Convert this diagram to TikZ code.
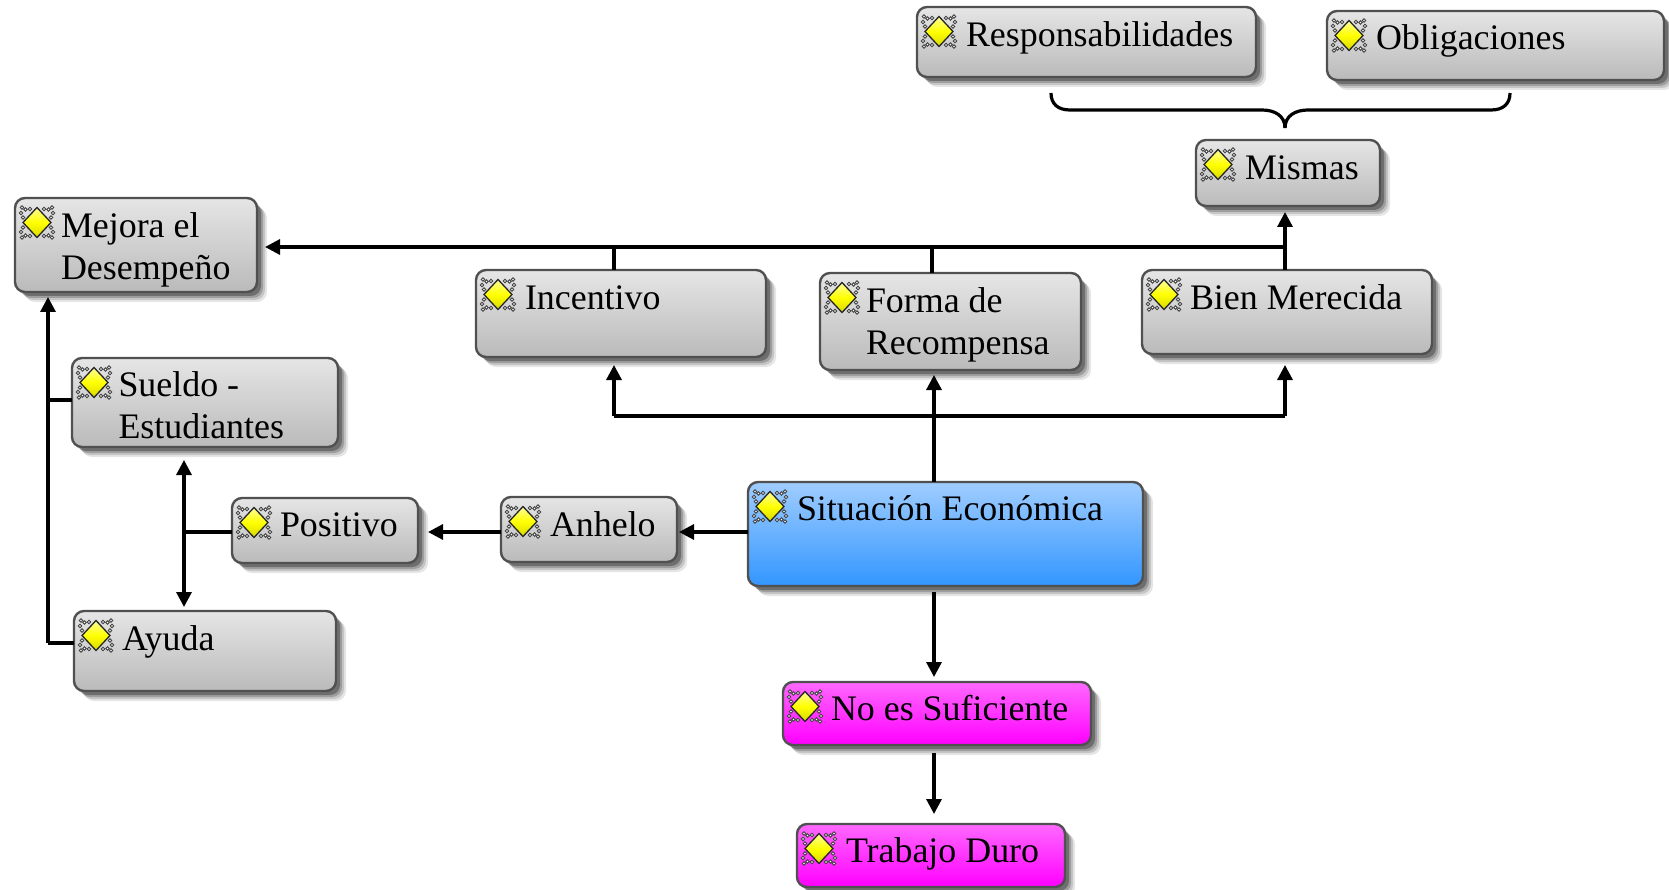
\documentclass[tikz,border=0pt]{standalone}
\usepackage{fontspec}
\setmainfont{Liberation Serif}
\usetikzlibrary{arrows.meta}
\definecolor{edgegray}{HTML}{505050}
\tikzset{
  x=1pt,y=-1pt,
  boxbase/.style={rectangle,rounded corners=10pt,draw=edgegray,line width=2.4pt,inner sep=0pt,outer sep=0pt},
  graybox/.style={boxbase,top color=black!10,bottom color=black!27},
  bluebox/.style={boxbase,top color={rgb,255:red,160;green,205;blue,255},bottom color={rgb,255:red,50;green,150;blue,255}},
  pinkbox/.style={boxbase,top color={rgb,255:red,255;green,105;blue,255},bottom color={rgb,255:red,255;green,0;blue,255}},
  boxtext/.style={anchor=north west,inner sep=0pt,outer sep=0pt,align=left,text=black,font=\fontsize{35.9}{42}\selectfont},
  conn/.style={draw=black,line width=3.2pt},
  arrow/.style={conn,-{Triangle[length=15pt,width=15pt]}},
  icon/.pic={
    \foreach \sx in {-1,1}{\foreach \sy in {-1,1}{
      \foreach \a/\b in {7/13.5,11.5/13,15/15,16/9.5,14/5}{
        \draw[black!75,fill=white,line width=.9pt] (\sx*\a,\sy*\b) circle[radius=1.7pt];
      }}}
    \draw[black!85,line width=1.3pt,top color=white!60!yellow,bottom color=yellow!85!black,middle color=yellow]
      (0,-15) -- (14,0) -- (0,15) -- (-14,0) -- cycle;
  }
}
% name, x1, y1, x2, y2, style, text, text dx, text dy
\newcommand{\bx}[9]{%
  \pgfmathsetmacro{\cxv}{(#2+#4)/2}%
  \pgfmathsetmacro{\cyv}{(#3+#5)/2}%
  \pgfmathsetmacro{\wv}{#4-#2}%
  \pgfmathsetmacro{\hv}{#5-#3}%
  \foreach \o/\op in {10/.10,8/.14,6/.2,4/.3}{
    \fill[black,opacity=\op,rounded corners=10pt] (#2+\o,#3+\o) rectangle (#4+\o,#5+\o);
  }
  \node[#6,minimum width=\wv pt,minimum height=\hv pt] (#1) at (\cxv,\cyv) {};
  \pic at (#2+22,#3+24.5) {icon};
  \node[boxtext] (#1-t) at (#2+#8,#3+#9) {\strut #7};
}
\begin{document}
\begin{tikzpicture}
\useasboundingbox (0,0) rectangle (1669,890);
\bx{resp}{917}{7}{1256}{77}{graybox}{Responsabilidades}{49}{9.8}
\bx{oblig}{1327}{11}{1664}{80}{graybox}{Obligaciones}{49}{8.8}
\bx{mismas}{1196}{140}{1380}{206}{graybox}{Mismas}{49}{9.8}
\bx{mejora}{15}{198}{257}{292}{graybox}{Mejora el\\Desempeño}{46}{10.4}
\bx{incent}{476}{270}{766}{357}{graybox}{Incentivo}{49}{10.4}
\bx{forma}{820}{273}{1081}{370}{graybox}{Forma de\\Recompensa}{46}{9.6}
\bx{bien}{1142}{270}{1432}{354}{graybox}{Bien Merecida}{48}{10.4}
\bx{sueldo}{72}{358}{338}{447}{graybox}{Sueldo -\\Estudiantes}{46.5}{8.8}
\bx{positivo}{232}{498}{418}{563}{graybox}{Positivo}{48}{8.8}
\bx{anhelo}{501}{497}{677}{562}{graybox}{Anhelo}{49}{9.8}
\bx{sit}{748}{482}{1143}{586}{bluebox}{Situación Económica}{49}{8.8}
\bx{ayuda}{74}{611}{336}{691}{graybox}{Ayuda}{48}{9.8}
\bx{noes}{783}{682}{1091}{745}{pinkbox}{No es Suficiente}{48}{8.8}
\bx{trabajo}{797}{824}{1065}{887}{pinkbox}{Trabajo Duro}{49}{8.8}
% routing coordinates
\coordinate (cm) at (934,416);
\coordinate (cl) at (614,416);
\coordinate (cr) at (1285,416);
\coordinate (tr) at (1285,247);
\coordinate (tl) at (614,247);
\coordinate (tm) at (932,247);
\coordinate (ll) at (48,400);
\coordinate (lb) at (48,643);
\coordinate (pv) at (184,532);
% upper group
\draw[arrow] (cm |- sit.north) -- ([yshift=-5pt]cm |- forma.south);
\draw[arrow] (cl) -- ([yshift=-8pt]cl |- incent.south);
\draw[arrow] (cr) -- ([yshift=-11pt]cr |- bien.south);
\draw[conn] (cl) -- (cr);
\draw[arrow] (cr |- bien.north) -- ([yshift=-6pt]cr |- mismas.south);
\draw[arrow] (tr) -- ([xshift=8pt]mejora.east |- tr);
\draw[conn] (tl) -- (tl |- incent.north);
\draw[conn] (tm) -- (tm |- forma.north);
% left group
\draw[arrow] (lb) -- ([yshift=-5pt]ll |- mejora.south);
\draw[conn] (lb) -- (lb -| ayuda.west);
\draw[conn] (ll) -- (ll -| sueldo.west);
\draw[conn] (pv) -- (pv -| positivo.west);
\draw[arrow] (pv) -- ([yshift=-13pt]pv |- sueldo.south);
\draw[arrow] (pv) -- ([yshift=4pt]pv |- ayuda.north);
\draw[arrow] (anhelo.west |- pv) -- ([xshift=10pt]positivo.east |- pv);
\draw[arrow] (sit.west |- pv) -- ([xshift=2pt]anhelo.east |- pv);
% lower group
\draw[arrow] ([yshift=-6pt]cm |- sit.south) -- ([yshift=5pt]cm |- noes.north);
\draw[arrow] ([yshift=-8pt]cm |- noes.south) -- ([yshift=10pt]cm |- trabajo.north);
% brace
\coordinate (bl) at (1051,93);
\coordinate (br) at (1510,93);
\coordinate (bc) at (1285,128);
\draw[conn] (bl) .. controls (1051,104) and (1058,110) .. (1070,110) -- (1262,110)
  .. controls (1275,110) and (1285,116) .. (bc);
\draw[conn] (br) .. controls (1510,104) and (1503,110) .. (1491,110) -- (1308,110)
  .. controls (1295,110) and (1285,116) .. (bc);
\end{tikzpicture}
\end{document}
